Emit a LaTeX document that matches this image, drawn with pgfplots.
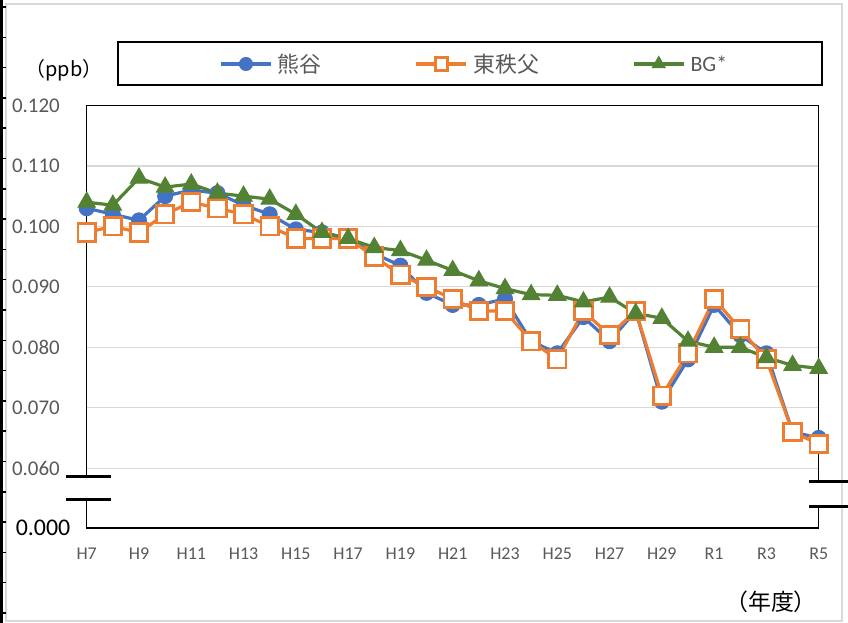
\documentclass[border=0pt]{standalone}
\usepackage{fontspec}
\setmainfont{Carlito}
\newfontfamily\jp{Noto Sans CJK JP}
\usepackage{pgfplots}
\usepackage{pgfplotstable}
\pgfplotsset{compat=1.18}
\definecolor{kblue}{HTML}{4472C4}
\definecolor{korange}{HTML}{ED7D31}
\definecolor{kgreen}{HTML}{548235}
\definecolor{tgray}{HTML}{595959}
\definecolor{ggray}{HTML}{D9D9D9}
\pgfplotstableread{
i b o g
0 0.103 0.099 0.104
1 0.102 0.100 0.1035
2 0.101 0.099 0.108
3 0.105 0.102 0.1065
4 0.106 0.104 0.107
5 0.1055 0.103 0.1055
6 0.1035 0.102 0.105
7 0.102 0.100 0.1045
8 0.0995 0.098 0.102
9 0.099 0.098 0.099
10 0.098 0.098 0.098
11 0.0955 0.095 0.0965
12 0.0935 0.092 0.096
13 0.089 0.090 0.0944
14 0.087 0.088 0.0927
15 0.087 0.086 0.091
16 0.088 0.086 0.0897
17 0.081 0.081 0.0887
18 0.079 0.078 0.0886
19 0.085 0.086 0.0875
20 0.081 0.082 0.0883
21 0.086 0.086 0.0856
22 0.071 0.072 0.0848
23 0.078 0.079 0.081
24 0.087 0.088 0.080
25 0.082 0.083 0.080
26 0.079 0.078 0.0783
27 0.066 0.066 0.077
28 0.065 0.064 0.0765
}\datatable
\begin{document}
\begin{tikzpicture}[x=1bp,y=1bp]
\fill[white] (0,0) rectangle (848,623);
\path[use as bounding box] (0,0) rectangle (848,623);
\draw[ggray, line width=1.5bp] (6,2) rectangle (842,619);
\draw[black, line width=3bp] (1.5,0) -- (1.5,623);
\foreach \k in {0,...,20} \draw[black, line width=1.5bp] (0,{616-30.3*\k}) -- (6,{616-30.3*\k});
% legend frame
\draw[black, line width=1.2bp] (118,538) rectangle (822,581);
\begin{axis}[
  at={(86.7bp,95bp)}, anchor=south west, scale only axis,
  width=732bp, height=422.5bp,
  xmin=0, xmax=28, ymin=0.0501, ymax=0.120,
  clip=false,
  axis line style={black, line width=1.2bp},
  major tick length=0pt,
  xtick={0,2,...,28},
  xticklabels={H7,H9,H11,H13,H15,H17,H19,H21,H23,H25,H27,H29,R1,R3,R5},
  ytick={0.0501,0.060,0.070,0.080,0.090,0.100,0.110,0.120},
  yticklabels={\makebox[0pt][r]{\color{black}\fontsize{24}{24}\selectfont 0.000\kern-11bp},0.060,0.070,0.080,0.090,0.100,0.110,0.120},
  yticklabel style={anchor=east, inner sep=0pt, xshift=-26.7bp, font=\fontsize{21}{21}\selectfont, text=tgray},
  xticklabel style={anchor=north, inner sep=0pt, yshift=-20bp, font=\fontsize{18}{18}\selectfont, text=tgray},
  ymajorgrids,
  major grid style={ggray, line width=1.3bp},
  legend style={at={(0.1807,1.0982)}, anchor=west, draw=none, fill=none, inner sep=0pt,
    font=\fontsize{22}{22}\selectfont, text=tgray,
    nodes={inner xsep=5bp},
    /tikz/every even column/.append style={column sep=88bp}},
  legend columns=3,
  legend cell align=left,
  legend image code/.code={\draw[mark repeat=2,mark phase=2, line width=3.6bp] plot coordinates {(0bp,0bp) (25bp,0bp) (50bp,0bp)};},
]
\addplot[color=kblue, line width=3.2bp, mark=*, mark size=7.5bp, mark options={solid, fill=kblue, line width=1bp},
  legend image post style={mark size=6.5bp}] table[x=i,y=b] {\datatable};
\addlegendentry{\jp 熊谷}
\addplot[color=korange, line width=3.2bp, mark=square*, mark size=8.7bp, mark options={solid, fill=white, line width=2.8bp},
  legend image post style={mark size=6.3bp}] table[x=i,y=o] {\datatable};
\addlegendentry{\jp 東秩父}
\addplot[color=kgreen, line width=3.2bp, mark=triangle*, mark size=10bp, mark options={solid, fill=kgreen, line width=1bp},
  legend image post style={mark size=7.5bp}] table[x=i,y=g] {\datatable};
\addlegendentry{BG*}
\end{axis}
% axis breaks
\fill[white] (84,124.5) rectangle (89.5,145.5);
\draw[black, line width=3bp] (66,146.3) -- (111,146.3);
\draw[black, line width=3bp] (66,123.7) -- (111,123.7);
\fill[white] (816,117.5) rectangle (821.5,140.5);
\draw[black, line width=3bp] (809,141.5) -- (848,141.5);
\draw[black, line width=3bp] (809,116.5) -- (848,116.5);
% labels
\node[anchor=base, font=\jp\fontsize{20}{20}\selectfont, text=black] at (64,546) {（ppb）};
\node[anchor=center, font=\jp\fontsize{23}{23}\selectfont, text=black] at (771,21.5) {（年度）};
\end{tikzpicture}
\end{document}
